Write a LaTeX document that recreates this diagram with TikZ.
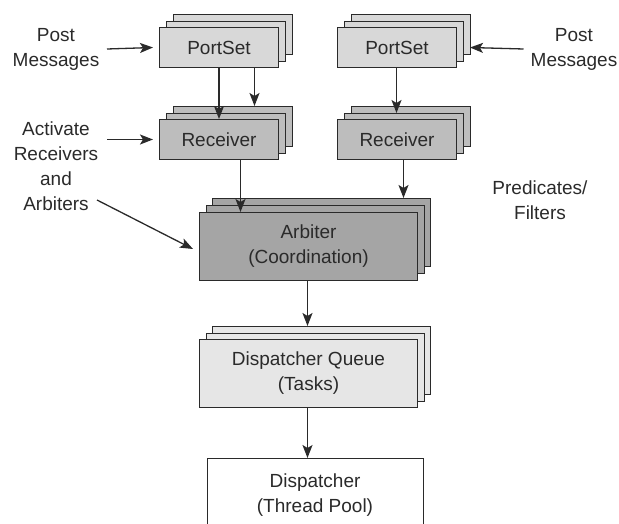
\documentclass[tikz,border=0pt]{standalone}
\usepackage{fontspec}
\setmainfont{Liberation Sans}
\usetikzlibrary{arrows.meta}
\definecolor{ink}{HTML}{2A2A2A}
\definecolor{portfill}{HTML}{D8D8D8}
\definecolor{recvfill}{HTML}{BDBDBD}
\definecolor{arbfill}{HTML}{A5A5A5}
\definecolor{queuefill}{HTML}{E6E6E6}
\tikzset{
  x=1pt, y=-1pt,
  txt/.style={font=\fontsize{19}{25}\selectfont, text=ink, align=center, inner sep=0pt},
  layer/.style={draw=ink, line width=1pt, rectangle},
  smallbox/.style={layer, minimum width=119pt, minimum height=40pt, anchor=north west},
  bigbox/.style={layer, minimum width=218pt, minimum height=68pt, anchor=north west},
  arr/.style={draw=ink, line width=1.3pt, -{Stealth[length=13pt, width=10pt, inset=3pt]}},
}
\begin{document}
\begin{tikzpicture}
\useasboundingbox (0,0) rectangle (619,524);
\begin{scope}
\clip (0,0) rectangle (619,524);

% ---- PortSet stacks ----
\node[smallbox, fill=portfill] (psLb) at (173,14) {};
\node[smallbox, fill=portfill] (psLm) at (166,21) {};
\node[smallbox, fill=portfill, txt] (psL) at (159,27) {PortSet};

\node[smallbox, fill=portfill] (psRb) at (351,14) {};
\node[smallbox, fill=portfill] (psRm) at (344,21) {};
\node[smallbox, fill=portfill, txt] (psR) at (337,27) {PortSet};

% ---- Receiver stacks ----
\node[smallbox, fill=recvfill] (rcLb) at (173,106) {};
\node[smallbox, fill=recvfill] (rcLm) at (166,113) {};
\node[smallbox, fill=recvfill, txt] (rcL) at (159,119) {Receiver};

\node[smallbox, fill=recvfill] (rcRb) at (351,106) {};
\node[smallbox, fill=recvfill] (rcRm) at (344,113) {};
\node[smallbox, fill=recvfill, txt] (rcR) at (337,119) {Receiver};

% ---- Arbiter stack ----
\node[bigbox, fill=arbfill] (arbb) at (212,198) {};
\node[bigbox, fill=arbfill] (arbm) at (206,205) {};
\node[bigbox, fill=arbfill, txt] (arb) at (199,212) {Arbiter\\(Coordination)};

% ---- Dispatcher queue stack ----
\node[bigbox, fill=queuefill] (dqb) at (212,326) {};
\node[bigbox, fill=queuefill] (dqm) at (206,333) {};
\node[bigbox, fill=queuefill, txt] (dq) at (199,339) {Dispatcher Queue\\(Tasks)};

% ---- Dispatcher (runs past the lower edge) ----
\node[layer, fill=white, minimum width=216pt, minimum height=90pt, anchor=north west] (disp) at (207,458) {};
\node[txt] (disptxt) at (315,495) {Dispatcher\\(Thread Pool)};

% ---- side labels ----
\node[txt] (postL) at (56,49) {Post\\Messages};
\node[txt] (postR) at (574,49) {Post\\Messages};
\node[txt] (act) at (56,166) {Activate\\Receivers\\and\\Arbiters};
\node[txt] (pred) at (540,200) {Predicates/\\Filters};
\coordinate (pl) at (107,49);
\coordinate (actend) at (97,200);

% ---- connectors ----
\draw[arr] (pl) -- ([xshift=-6pt]psL.west);
\draw[arr] ([xshift=-7pt]postR.west) -- ([xshift=-1pt]psRb.east |- psR.west);
\draw[arr] (rcL.west -| pl) -- ([xshift=-6pt]rcL.west);
\draw[arr] (actend) -- ([xshift=-6pt,yshift=-37pt]arb.north west);

\draw[arr] (psL.south) -- (rcL.north);
\draw[arr] ([xshift=35.5pt]psL.south) -- ([xshift=35.5pt]psL.south |- rcLb.north);
\draw[arr] ([xshift=-0.5pt]psR.south) -- ([xshift=-0.5pt]psR.south |- rcRm.north);

\draw[arr] ([xshift=21.5pt]rcL.south) -- ([xshift=21.5pt]rcL.south |- arb.north);
\draw[arr] ([xshift=6.5pt]rcR.south) -- ([xshift=6.5pt]rcR.south |- arbb.north);

\draw[arr] ([xshift=-1pt]arb.south) -- ([xshift=-1pt]arb.south |- dqb.north);
\draw[arr] ([xshift=-1pt]dq.south) -- ([xshift=-1pt]dq.south |- disp.north);
\end{scope}
\end{tikzpicture}
\end{document}
